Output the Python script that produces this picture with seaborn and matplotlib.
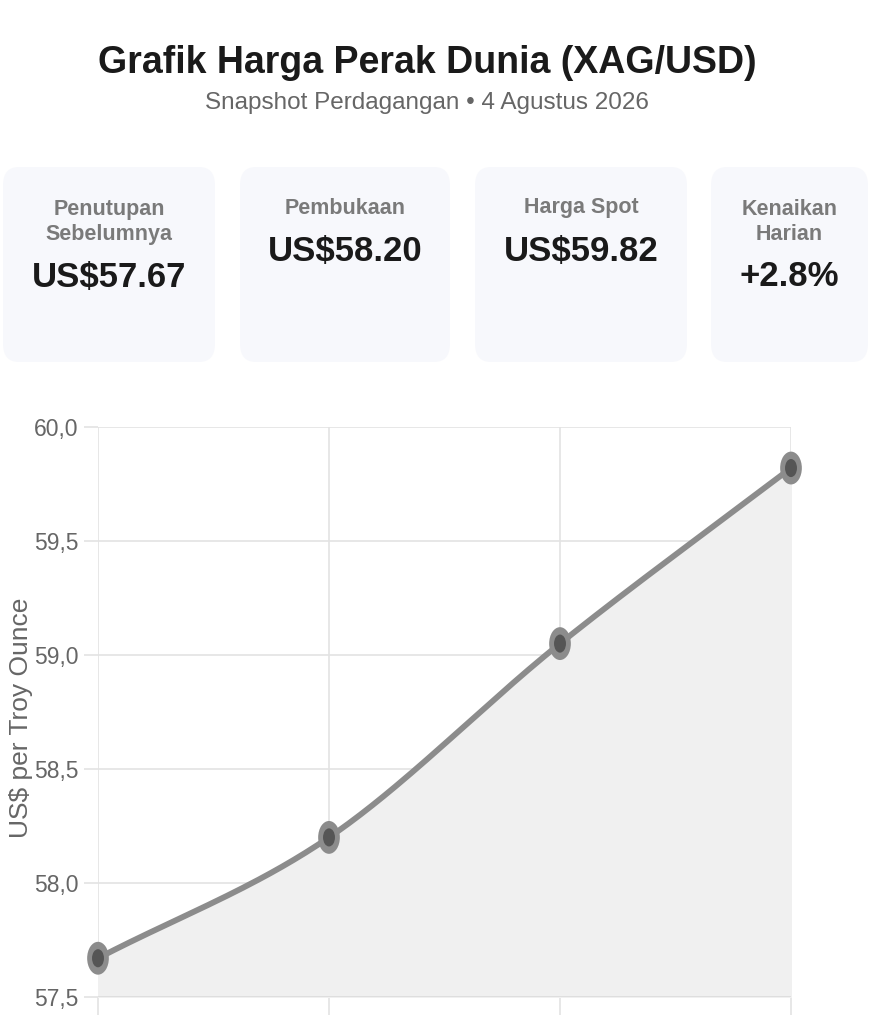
import numpy as np
import pandas as pd
import matplotlib
matplotlib.use("Agg")
import matplotlib.pyplot as plt
from matplotlib.patches import FancyBboxPatch
from matplotlib.path import Path
from matplotlib.ticker import FuncFormatter, FixedLocator
import seaborn as sns

# data
sessions = ["Penutupan Sebelumnya", "Pembukaan", "Tengah Hari", "Harga Spot"]
prices = [57.67, 58.20, 59.05, 59.82]
y_ticks = [57.5, 58.0, 58.5, 59.0, 59.5, 60.0]
card_labels = ["Penutupan\nSebelumnya", "Pembukaan", "Harga Spot", "Kenaikan\nHarian"]
card_values = ["US$57.67", "US$58.20", "US$59.82", "+2.8%"]

title = "Grafik Harga Perak Dunia (XAG/USD)"
subtitle = "Snapshot Perdagangan \u2022 4 Agustus 2026"
y_label = "US$ per Troy Ounce"


def monotone_curve(xs, ys, n=60):
    """Fritsch-Carlson monotone cubic through the given points."""
    xs = np.asarray(xs, float)
    ys = np.asarray(ys, float)
    h = np.diff(xs)
    d = np.diff(ys) / h
    m = np.zeros_like(ys)
    m[0], m[-1] = d[0], d[-1]
    for i in range(1, len(ys) - 1):
        m[i] = 0 if d[i - 1] * d[i] <= 0 else (d[i - 1] + d[i]) / 2
    cx, cy = [], []
    for i in range(len(h)):
        t = np.linspace(0, 1, n)
        h00 = 2 * t**3 - 3 * t**2 + 1
        h10 = t**3 - 2 * t**2 + t
        h01 = -2 * t**3 + 3 * t**2
        h11 = t**3 - t**2
        cx.append(xs[i] + t * h[i])
        cy.append(h00 * ys[i] + h10 * h[i] * m[i] + h01 * ys[i + 1] + h11 * h[i] * m[i + 1])
    return np.concatenate(cx), np.concatenate(cy)


sns.set_theme(style="white")
plt.rcParams["font.family"] = ["Liberation Sans", "DejaVu Sans"]

fig = plt.figure(figsize=(8.75, 10.24), dpi=100)
fig.patch.set_facecolor("white")

fig.text(0.488, 0.938, title, ha="center", va="center", fontsize=27,
         fontweight="bold", color="#1a1a1a")
fig.text(0.488, 0.899, subtitle, ha="center", va="center", fontsize=17.5,
         color="#666666")

# summary cards
W, H = 875, 1024
card_x = [(3, 215), (240, 450), (475, 687), (711, 868)]
for (x0, x1), lab, val in zip(card_x, card_labels, card_values):
    box = FancyBboxPatch((x0 / W, 1 - 362 / H), (x1 - x0) / W, 195 / H,
                         boxstyle="round,pad=0,rounding_size=0.018",
                         transform=fig.transFigure, facecolor="#f7f8fc",
                         edgecolor="none")
    fig.patches.append(box)
    cx = (x0 + x1) / 2 / W
    two = "\n" in lab
    fig.text(cx, 1 - (222 if two else 208) / H, lab, ha="center", va="center",
             fontsize=15.5, fontweight="bold", color="#7a7a7a", linespacing=1.2)
    fig.text(cx, 1 - (277 if two else 252) / H, val, ha="center", va="center",
             fontsize=25, fontweight="bold", color="#1a1a1a")

# price chart
ax = fig.add_axes([98 / W, 1 - 997 / H, 693 / W, 570 / H])
df = pd.DataFrame({"idx": np.arange(len(sessions)), "session": sessions, "price": prices})

cx_, cy_ = monotone_curve(df["idx"], df["price"])
ax.fill_between(cx_, cy_, 57.5, color="#f0f0f0", zorder=1)
ax.plot(cx_, cy_, color="#8c8c8c", lw=4.2, solid_capstyle="round", zorder=3)

circle = Path.unit_circle()
ellipse = Path(circle.vertices * np.array([0.66, 1.0]), circle.codes)
sns.scatterplot(data=df, x="idx", y="price", marker=ellipse, s=560,
                color="#8c8c8c", edgecolor="none", ax=ax, zorder=4, clip_on=False)
sns.scatterplot(data=df, x="idx", y="price", marker=ellipse, s=170,
                color="#555555", edgecolor="none", ax=ax, zorder=5, clip_on=False)

ax.set_xlim(0, len(sessions) - 1)
ax.set_ylim(57.5, 60.0)
ax.yaxis.set_major_locator(FixedLocator(y_ticks))
ax.yaxis.set_major_formatter(FuncFormatter(lambda v, p: f"{v:.1f}".replace(".", ",")))
ax.set_xticks(df["idx"])
ax.set_xticklabels([""] * len(sessions))
ax.grid(True, color="#e3e3e3", lw=1.2)
ax.set_axisbelow(True)
for s in ax.spines.values():
    s.set_visible(False)
ax.axhline(57.5, color="#dcdcdc", lw=2, zorder=2)
ax.tick_params(axis="y", left=True, length=10, width=1.2, color="#e3e3e3", pad=4,
               labelsize=16.5, labelcolor="#666666")
ax.tick_params(axis="x", bottom=True, length=13, width=1.2, color="#e3e3e3",
               direction="out")
ax.set_xlabel("")
ax.set_ylabel(y_label, fontsize=19, color="#666666")
ax.yaxis.set_label_coords(-0.094, 0.49)

fig.savefig("out.png", dpi=100, facecolor="white")
